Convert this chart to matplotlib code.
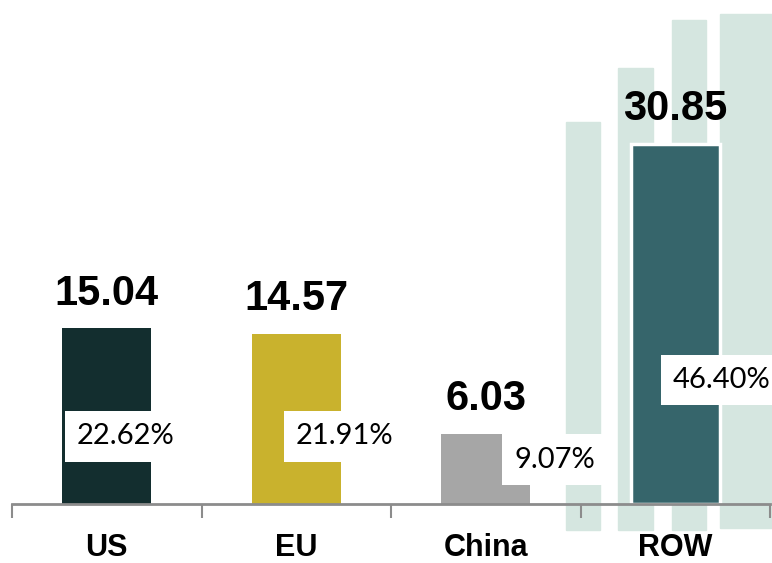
import matplotlib.pyplot as plt
from matplotlib.patches import Rectangle

regions = ["US", "EU", "China", "ROW"]
values = [15.04, 14.57, 6.03, 30.85]
shares = ["22.62%", "21.91%", "9.07%", "46.40%"]
colors = ["#132e2f", "#c9b22d", "#a6a6a6", "#36656b"]

# where each share tag sits, relative to its bar (x offset, height)
share_pos = [(0.1, 5.8), (0.255, 5.8), (0.365, 3.8), (0.245, 10.6)]

W, H = 772, 563
fig = plt.figure(figsize=(W / 100, H / 100), dpi=100)

# pale backdrop stripes on the right (pixel boxes: x0, x1, top, bottom)
stripes = [(566, 600, 122, 530), (618, 653, 68, 530),
           (672, 706, 20, 530), (720, 772, 14, 528)]
for x0, x1, top, bot in stripes:
    fig.add_artist(Rectangle((x0 / W, 1 - bot / H), (x1 - x0) / W, (bot - top) / H,
                             transform=fig.transFigure, color="#d5e6e0", zorder=0))

ax = fig.add_axes([12 / W, 1 - 504 / H, 758 / W, 504 / H])
ax.set_facecolor("none")
ax.set_zorder(1)

x = range(len(regions))
bars = ax.bar(x, values, width=0.47, color=colors, zorder=2)
bars[3].set_edgecolor("white")
bars[3].set_linewidth(2.5)

for i, v in enumerate(values):
    ax.annotate(f"{v:.2f}", (i, v), xytext=(0, 17), textcoords="offset points",
                ha="center", va="baseline", fontsize=30, fontweight="bold",
                family="Liberation Sans", color="black")
    dx, h = share_pos[i]
    ax.text(i + dx, h, shares[i], ha="center", va="center", fontsize=21,
            family="Lato", color="black", zorder=3,
            bbox=dict(boxstyle="square,pad=0.42", fc="white", ec="none"))

ax.set_xlim(-0.5, 3.5)
ax.set_ylim(0, 504 / 11.68)
for s in ["top", "right", "left"]:
    ax.spines[s].set_visible(False)
ax.spines["bottom"].set_color("#8c8c8c")
ax.spines["bottom"].set_linewidth(2)
ax.spines["bottom"].set_zorder(4)
ax.set_yticks([])

ax.set_xticks(list(x))
ax.set_xticklabels(regions, fontsize=22, fontweight="bold", family="Liberation Sans")
ax.tick_params(axis="x", which="major", length=0, pad=21)
ax.set_xticks([-0.5, 0.5, 1.5, 2.5, 3.5], minor=True)
ax.tick_params(axis="x", which="minor", length=10, width=1.5, color="#8c8c8c")

fig.savefig("out.png", dpi=100)
